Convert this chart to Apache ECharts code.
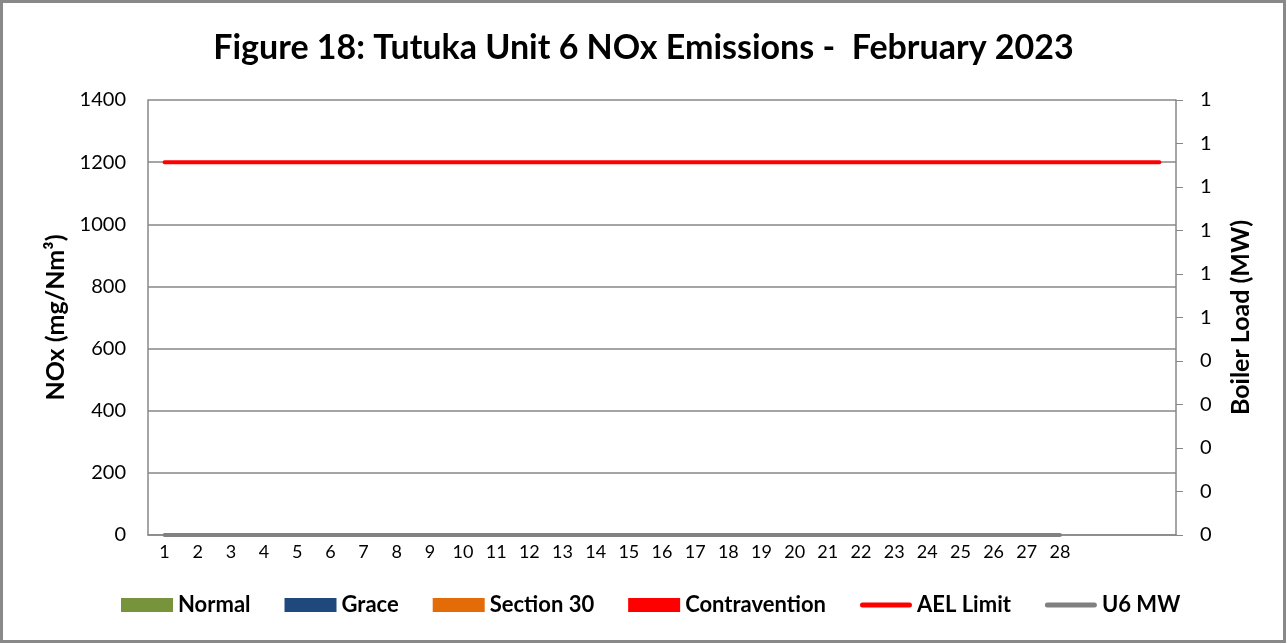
<!DOCTYPE html>
<html lang="en">
<head>
    <meta charset="UTF-8">
    <title>Tutuka Unit 6 NOx</title>
    <script src="https://cdn.jsdelivr.net/npm/echarts@6/dist/echarts.min.js"></script>
    <style type="text/css">
        html, body {
            margin: 0;
            padding: 0;
            background: #fff;
        }
        #chart {
            width: 1287px;
            height: 644px;
        }
    </style>
</head>
<body>
<div id="chart"></div>
<script type="text/javascript">
    // days of February (last three slots are empty)
    var days = ['1', '2', '3', '4', '5', '6', '7', '8', '9', '10', '11', '12', '13', '14',
        '15', '16', '17', '18', '19', '20', '21', '22', '23', '24', '25', '26', '27', '28', '', '', ''];
    var normal = [];
    var grace = [];
    var section30 = [];
    var contravention = [];
    var aelLimit = [1200, 1200, 1200, 1200, 1200, 1200, 1200, 1200, 1200, 1200, 1200, 1200, 1200, 1200,
        1200, 1200, 1200, 1200, 1200, 1200, 1200, 1200, 1200, 1200, 1200, 1200, 1200, 1200, 1200, 1200, 1200];
    var u6MW = [0, 0, 0, 0, 0, 0, 0, 0, 0, 0, 0, 0, 0, 0,
        0, 0, 0, 0, 0, 0, 0, 0, 0, 0, 0, 0, 0, 0];

    var font = 'Lato';
    var axisGray = '#878787';
    // rounded bar used as legend icon for the two lines
    var lineIcon = 'path://M2.5,0 L49.5,0 A2.5,2.5 0 0 1 49.5,5 L2.5,5 A2.5,2.5 0 0 1 2.5,0 Z';

    var myChart = echarts.init(document.getElementById('chart'));
    var option = {
        animation: false,
        textStyle: {fontFamily: font},
        title: {
            text: 'Figure 18: Tutuka Unit 6 NOx Emissions -  February 2023',
            left: 'center',
            top: 26,
            textStyle: {fontSize: 34, fontWeight: 'bold', color: '#000', fontFamily: font}
        },
        graphic: [{
            type: 'rect',
            shape: {x: 1.5, y: 1.5, width: 1283, height: 640},
            style: {fill: 'none', stroke: '#898989', lineWidth: 3},
            silent: true
        }],
        legend: {
            left: 116,
            top: 589,
            itemWidth: 52,
            itemHeight: 14,
            itemGap: 34,
            symbolKeepAspect: true,
            textStyle: {fontSize: 22, fontWeight: 'bold', color: '#000', fontFamily: font},
            data: [
                {name: 'Normal', icon: 'rect'},
                {name: 'Grace', icon: 'rect'},
                {name: 'Section 30', icon: 'rect'},
                {name: 'Contravention', icon: 'rect'},
                {name: 'AEL Limit', icon: lineIcon},
                {name: 'U6 MW', icon: lineIcon}
            ]
        },
        grid: {left: 148, right: 111, top: 100, bottom: 109},
        xAxis: {
            type: 'category',
            data: days,
            boundaryGap: true,
            axisLine: {lineStyle: {color: axisGray, width: 1.5}},
            axisTick: {alignWithLabel: true, length: 5, lineStyle: {color: axisGray}},
            axisLabel: {interval: 0, fontSize: 18, color: '#000', margin: 8}
        },
        yAxis: [
            {
                type: 'value',
                min: 0,
                max: 1400,
                interval: 200,
                name: 'NOx (mg/Nm³)',
                nameLocation: 'middle',
                nameRotate: 90,
                nameGap: 79,
                nameTextStyle: {fontSize: 25, fontWeight: 'bold', color: '#000'},
                axisLine: {show: true, lineStyle: {color: axisGray, width: 1.5}},
                axisTick: {show: false},
                axisLabel: {
                    fontSize: 20, color: '#000', margin: 22,
                    formatter: function (v) { return String(v); }
                },
                splitLine: {lineStyle: {color: axisGray, width: 1.5}}
            },
            {
                type: 'value',
                min: 0,
                max: 1,
                interval: 0.1,
                position: 'right',
                name: 'Boiler Load (MW)',
                nameLocation: 'middle',
                nameRotate: 90,
                nameGap: 52,
                nameTextStyle: {fontSize: 25, fontWeight: 'bold', color: '#000'},
                axisLine: {show: true, lineStyle: {color: axisGray, width: 1.5}},
                axisTick: {show: true, length: 7, lineStyle: {color: axisGray}},
                axisLabel: {
                    fontSize: 20, color: '#000', margin: 24,
                    formatter: function (v) { return Math.round(v); }
                },
                splitLine: {show: false}
            }
        ],
        series: [
            {name: 'Normal', type: 'bar', stack: 'nox', data: normal, itemStyle: {color: '#77933c'}},
            {name: 'Grace', type: 'bar', stack: 'nox', data: grace, itemStyle: {color: '#1f497d'}},
            {name: 'Section 30', type: 'bar', stack: 'nox', data: section30, itemStyle: {color: '#e36c09'}},
            {name: 'Contravention', type: 'bar', stack: 'nox', data: contravention, itemStyle: {color: '#ff0000'}},
            {
                name: 'AEL Limit', type: 'line', data: aelLimit, symbol: 'none',
                itemStyle: {color: '#ff0000'},
                lineStyle: {color: '#ff0000', width: 4, cap: 'round'}
            },
            {
                name: 'U6 MW', type: 'line', yAxisIndex: 1, data: u6MW, symbol: 'none',
                itemStyle: {color: '#808080'},
                lineStyle: {color: '#808080', width: 4, cap: 'round'}
            }
        ]
    };
    myChart.setOption(option);
</script>
</body>
</html>
